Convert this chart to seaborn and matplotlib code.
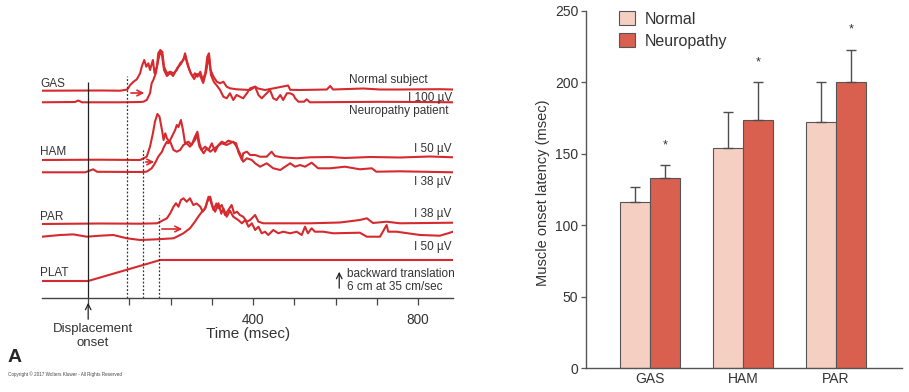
import matplotlib.pyplot as plt
import seaborn as sns
import pandas as pd
from matplotlib.patches import Patch

# ---- bar chart values (msec) ----
muscles = ['GAS', 'HAM', 'PAR']
normal_mean = [116, 154, 172]
normal_sd = [11, 25, 28]
neuro_mean = [133, 174, 200]
neuro_sd = [9, 26, 23]

# ---- EMG traces: time (msec) and amplitude above baseline (arbitrary units) ----
gas_norm_t = [-112, 29, 78, 95, 102, 110, 118, 126, 130, 136, 141, 146, 150, 157, 161, 167, 170, 175, 180, 184,
              191, 199, 207, 215, 223, 231, 235, 241, 247, 254, 259, 265, 272, 278, 284, 289, 293, 297, 304, 312,
              320, 328, 336, 344, 360, 393, 405, 412, 429, 485, 490, 514, 579, 587, 594, 667, 708, 756, 853, 885]
gas_norm_a = [0, 0.2, 0, 1.2, 5.7, 9, 11.4, 17.4, 24, 30.7, 24, 27.4, 20.7, 30.7, 17.4, 24.7, 37.4, 40.7, 38.7, 24,
              17.4, 19, 17.4, 20.7, 27.4, 30.7, 37.4, 27.4, 19, 14, 17.4, 14, 19, 10.7, 17.4, 34, 37.4, 20.7, 14, 9,
              7.4, 9, 4, 2.4, 1.4, 0.7, 4, 2.2, 0.7, 5.2, 0.9, 0.7, 1.2, 4.7, 1.2, 2.2, 1.2, 1.2, 1.5, 1.2]
gas_neur_t = [-112, -32, -24, -15, 78, 126, 134, 142, 150, 154, 158, 164, 170, 175, 179, 184, 191, 199, 206, 216,
              225, 235, 242, 250, 257, 264, 272, 279, 286, 293, 298, 305, 313, 320, 328, 336, 344, 352, 360, 376,
              385, 393, 405, 413, 421, 433, 441, 449, 457, 466, 473, 482, 490, 498, 502, 510, 524, 530, 538, 708,
              805, 885]
gas_neur_a = [0, 0.3, 1.8, 0, 0, 0.3, 0.6, 2.3, 9, 19, 22.3, 29, 42.3, 50.3, 47.3, 32.3, 26.3, 29.3, 26.3, 34.3,
              38.3, 46.3, 36.3, 28.3, 23.3, 28.3, 26.3, 19.3, 30.3, 46.3, 27.3, 20.3, 16.3, 12.3, 5.6, 4, 9, 2.3, 7.3, 4,
              9, 14, 15.6, 7.3, 4, 9, 12.3, 4, 2.3, 7.3, 2.3, 9, 9, 7.3, 4, 0.6, 0.6, 3, 0, 0.5,
              0.3, 0]
ham_norm_t = [-112, 29, 126, 142, 150, 157, 162, 168, 173, 179, 183, 187, 191, 197, 203, 211, 215, 219, 225, 230,
              235, 243, 251, 259, 265, 270, 275, 284, 292, 300, 308, 316, 324, 332, 340, 348, 359, 364, 373, 376,
              385, 393, 405, 417, 433, 445, 453, 470, 506, 538, 587, 623, 684, 756, 829, 885]
ham_norm_a = [0, 0.3, 0, 3.3, 13.3, 26.7, 38.3, 46, 43.3, 30, 20, 26.7, 21.7, 18.3, 23.3, 30, 35, 33, 40, 30,
              16.7, 18.3, 15, 23.3, 28.3, 16.7, 10, 13.3, 10, 16.7, 8.3, 15, 18.3, 16.7, 19.3, 18.3, 16.7, 8.3, 0, 6.7,
              8.3, 5, 5, 3.3, 3.3, 8.3, 4, 2.7, 1.7, 2.7, 3, 2, 3, 2.5, 3.5, 2.7]
ham_neur_t = [-112, -7, 12, 22, 134, 142, 154, 162, 170, 179, 184, 191, 194, 199, 207, 215, 223, 231, 239, 247,
              259, 264, 270, 280, 288, 296, 312, 324, 336, 352, 360, 368, 376, 385, 397, 405, 417, 433, 449, 466,
              490, 502, 514, 526, 542, 558, 587, 623, 659, 688, 699, 756, 885]
ham_neur_a = [0, 0, 3, 0.5, 0.3, 0.7, 4, 9, 15.6, 20.6, 25.6, 30.6, 29, 30.6, 22.3, 20.6, 22.3, 27.3, 29, 25.6,
              32.3, 37.3, 25.6, 19, 24, 20.6, 25.6, 29, 27.3, 30.6, 25.6, 19, 10.6, 14, 12.3, 9, 5.6, 9, 4, 2.3,
              9, 5.6, 7.3, 5.6, 9.6, 4, 4, 5.6, 3, 4, 0.6, 1, 0]
par_norm_t = [-112, 29, 126, 167, 175, 183, 191, 199, 207, 213, 219, 225, 231, 239, 247, 255, 263, 272, 278, 284,
              292, 296, 304, 311, 316, 324, 332, 340, 348, 354, 361, 368, 376, 385, 393, 405, 413, 425, 441, 506,
              538, 611, 659, 676, 691, 724, 756, 885]
par_norm_a = [0, 0.5, 0.3, 0.7, 2.3, 4, 5.7, 10.7, 17.3, 20.7, 17.3, 24, 25.7, 22.3, 25.7, 19, 20.5, 17.3, 12.3, 16,
              27.3, 24, 14, 20.5, 15.7, 19, 9, 14, 19, 10.7, 12.3, 9, 7.3, 2.3, 4, 9, 2.3, 0.7, 0.7, 0.7,
              0.7, 1.5, 4, 5.7, 1, 2.3, 0.7, 1.3]
par_neur_t = [-112, -68, -36, -3, 29, 61, 94, 126, 167, 207, 215, 231, 247, 259, 267, 276, 284, 289, 296, 302,
              308, 316, 323, 328, 336, 344, 352, 364, 373, 381, 389, 397, 405, 413, 421, 429, 437, 449, 461, 473,
              490, 506, 518, 526, 533, 542, 550, 570, 595, 659, 676, 708, 724, 728, 748, 805, 853, 873, 885]
par_neur_a = [0, 1.7, 2.3, 0, 1, 1.7, -1.6, -3.3, -2.6, -1.6, 0, 3.4, 8.4, 15, 20, 25, 28.4, 35, 40, 30,
              25, 33.4, 23, 28.4, 20, 26, 20, 16.7, 13.4, 16.7, 10, 13.4, 6.7, 10, 3.4, 5, 1.7, 6.7, 3.4, 5,
              3.4, 5, 1.7, 10, 3.4, 8.4, 5, 5, 3.4, 4, 0, 0, 11.7, 5, 5, 1.7, 1, 3.4, 5]
plat_t = [-112, 0, 175, 885]
plat_a = [0, 0, 21, 21]

time_ticks = list(range(0, 900, 100))
time_labels = ['', '', '', '', '400', '', '', '', '800']

red = '#d52a2e'
dark = '#333333'
c_norm = '#f5cfc2'
c_neuro = '#d9604f'

sns.set_style('ticks')
plt.rcParams['font.family'] = ['Liberation Sans', 'DejaVu Sans']

fig = plt.figure(figsize=(9.09, 3.92), dpi=100)

# ---------------- left panel: EMG traces ----------------
axL = fig.add_axes([42 / 909, 94 / 392, 411 / 909, 258 / 392])
traces = [
    (gas_norm_t, gas_norm_a, 207.3), (gas_neur_t, gas_neur_a, 195.7),
    (ham_norm_t, ham_norm_a, 138.0), (ham_neur_t, ham_neur_a, 125.7),
    (par_norm_t, par_norm_a, 74.0), (par_neur_t, par_neur_a, 61.3),
    (plat_t, plat_a, 17.0),
]
for t, a, base in traces:
    sns.lineplot(x=t, y=[base + v for v in a], ax=axL, color=red, lw=1.5,
                 estimator=None, sort=False)

axL.set_xlim(-112, 885)
axL.set_ylim(0, 258)
for s in ['left', 'top', 'right']:
    axL.spines[s].set_visible(False)
axL.spines['bottom'].set_color('#444444')
axL.spines['bottom'].set_linewidth(1.0)
axL.set_yticks([])
axL.set_xticks(time_ticks)
axL.set_xticklabels(time_labels)
axL.tick_params(axis='x', length=5, width=0.9, color='#444444', labelsize=9.8,
                labelcolor=dark, pad=6)

# onset line and latency markers
axL.vlines(0, 0, 216, color='#222222', lw=0.9)
axL.vlines([95, 132, 171], 0, [222, 149, 83], color=dark, lw=0.9,
           linestyles=(0, (1.5, 1.5)))
for x0, x1, y in [(97, 143, 205), (133, 167, 136), (172, 235, 69)]:
    axL.annotate('', xy=(x1, y), xytext=(x0, y),
                 arrowprops=dict(arrowstyle='->', color=red, lw=1.2))

axL.annotate('', xy=(0, -2), xytext=(0, -24), annotation_clip=False,
             arrowprops=dict(arrowstyle='->', color='#222222', lw=0.9))
axL.annotate('', xy=(609, 29), xytext=(609, 7), annotation_clip=False,
             arrowprops=dict(arrowstyle='->', color='#222222', lw=0.9))

lab = dict(fontsize=8.5, color=dark, va='center')
for name, y in [('GAS', 213.7), ('HAM', 145.7), ('PAR', 80.7), ('PLAT', 24.7)]:
    axL.text(-116, y, name, ha='left', **lab)
axL.text(824, 218, 'Normal subject', ha='right', **lab)
axL.text(873, 187.3, 'Neuropathy patient', ha='right', **lab)
for txt, y in [('I 100 \u00b5V', 199.7), ('I 50 \u00b5V', 148.7), ('I 38 \u00b5V', 116.3),
               ('I 38 \u00b5V', 84.0), ('I 50 \u00b5V', 51.3)]:
    axL.text(882, y, txt, ha='right', **lab)
axL.text(627, 23.7, 'backward translation', ha='left', **lab)
axL.text(627, 11.3, '6 cm at 35 cm/sec', ha='left', **lab)
axL.text(11, -31.3, 'Displacement', ha='center', va='center', fontsize=9.5, color=dark)
axL.text(11, -44.7, 'onset', ha='center', va='center', fontsize=9.5, color=dark)
axL.text(388, -36, 'Time (msec)', ha='center', va='center', fontsize=11, color=dark)

fig.text(8 / 909, 1 - 358 / 392, 'A', fontsize=14, fontweight='bold', va='center', ha='left')
fig.text(8 / 909, 1 - 374 / 392, 'Copyright \u00a9 2017 Wolters Kluwer - All Rights Reserved',
         fontsize=3.3, va='center', ha='left', color='#444444')

# ---------------- right panel: onset latency bars ----------------
axR = fig.add_axes([586 / 909, 24 / 392, 316 / 909, 357 / 392])
df = pd.DataFrame({
    'muscle': muscles * 2,
    'group': ['Normal'] * 3 + ['Neuropathy'] * 3,
    'latency': normal_mean + neuro_mean,
})
sns.barplot(data=df, x='muscle', y='latency', hue='group', hue_order=['Normal', 'Neuropathy'],
            palette=[c_norm, c_neuro], saturation=1, width=0.645, errorbar=None,
            edgecolor='#555555', linewidth=0.8, legend=False, ax=axR)

bars = sorted(axR.patches, key=lambda p: p.get_x())
sds = []
for n_sd, p_sd in zip(normal_sd, neuro_sd):
    sds += [n_sd, p_sd]
xs = [b.get_x() + b.get_width() / 2 for b in bars]
hs = [b.get_height() for b in bars]
axR.errorbar(xs, hs, yerr=[[0] * len(sds), sds], fmt='none', ecolor='#4d4d4d',
             elinewidth=1.0, capsize=3.6, capthick=1.0, zorder=1)
for i in range(1, len(bars), 2):
    axR.text(xs[i], hs[i] + sds[i] + 14, '*', ha='center', va='center', fontsize=9, color=dark)

axR.set_xlim(-0.69, 2.71)
axR.set_ylim(0, 250)
axR.set_yticks(range(0, 251, 50))
axR.set_xlabel('')
axR.set_ylabel('Muscle onset latency (msec)', fontsize=10.5, color=dark)
axR.yaxis.set_label_coords(-0.114, 0.49)
sns.despine(ax=axR)
for s in ['left', 'bottom']:
    axR.spines[s].set_color('#555555')
    axR.spines[s].set_linewidth(1.0)
axR.tick_params(axis='y', length=3.5, width=0.9, color='#555555', labelsize=10,
                labelcolor=dark, pad=2)
axR.tick_params(axis='x', length=0, labelsize=10, labelcolor=dark, pad=3)

handles = [Patch(facecolor=c_norm, edgecolor='#555555', lw=0.8),
           Patch(facecolor=c_neuro, edgecolor='#555555', lw=0.8)]
axR.legend(handles, ['Normal', 'Neuropathy'], loc='upper left',
           bbox_to_anchor=(33 / 316, 1.0), frameon=False, fontsize=11.5,
           handlelength=1.0, handleheight=1.0, handletextpad=0.6,
           labelspacing=0.4, borderpad=0, borderaxespad=0, labelcolor=dark)

fig.savefig('out.png', dpi=100)
